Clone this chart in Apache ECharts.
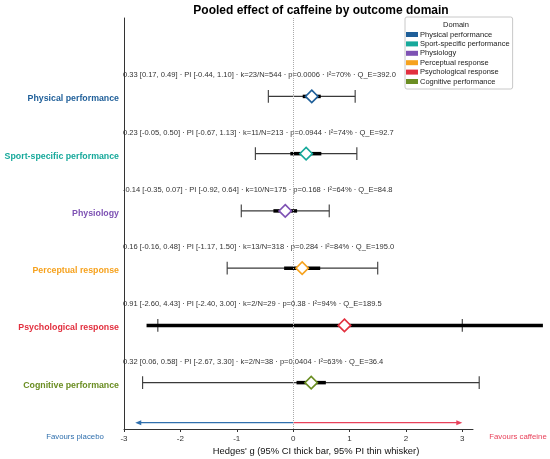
<html>
<head>
    <meta charset="utf-8">
    <title>Pooled effect of caffeine</title>
    <style type="text/css">
        body { margin: 0; background: #fff; }
        #chart { width: 550px; height: 459px; }
    </style>
</head>
<body>
    <div id="chart"></div>

<script src="https://cdn.jsdelivr.net/npm/echarts@6/dist/echarts.min.js"></script>
<script>

    // domains, top to bottom
    var domains = ['Physical performance', 'Sport-specific performance', 'Physiology',
        'Perceptual response', 'Psychological response', 'Cognitive performance'];
    var domainColors = ['#1f5f99', '#17a99b', '#7e52b4', '#f6a21e', '#e2303f', '#6b8e23'];

    var effect = [0.33, 0.23, -0.14, 0.16, 0.91, 0.32];
    var ciLow = [0.17, -0.05, -0.35, -0.16, -2.60, 0.06];
    var ciHigh = [0.49, 0.50, 0.07, 0.48, 4.43, 0.58];
    var piLow = [-0.44, -0.67, -0.92, -1.17, -2.40, -2.67];
    var piHigh = [1.10, 1.13, 0.64, 1.50, 3.00, 3.30];
    var kStudies = [23, 11, 10, 13, 2, 2];
    var nTotal = [544, 213, 175, 318, 29, 38];
    var pValue = ['0.0006', '0.0944', '0.168', '0.284', '0.38', '0.0404'];
    var iSquared = [70, 74, 64, 84, 94, 63];
    var qE = ['392.0', '92.7', '84.8', '195.0', '189.5', '36.4'];

    var xTicks = [-3, -2, -1, 0, 1, 2, 3];
    var rowTicks = [0, 1, 2, 3, 4, 5];

    // direction arrows along the bottom: [start, end]
    var arrowPlacebo = [0, -2.8];
    var arrowCaffeine = [0, 3.0];
    var arrowRow = 5.70;

    var font = 'Liberation Sans, Arial, sans-serif';

    function fmt(v) { return v.toFixed(2); }

    var annotations = [];
    var rows = [];
    for (var i = 0; i < domains.length; i++) {
        annotations.push(fmt(effect[i]) + ' [' + fmt(ciLow[i]) + ', ' + fmt(ciHigh[i]) + '] \u00b7 PI [' +
            fmt(piLow[i]) + ', ' + fmt(piHigh[i]) + '] \u00b7 k=' + kStudies[i] + '/N=' + nTotal[i] +
            ' \u00b7 p=' + pValue[i] + ' \u00b7 I\u00b2=' + iSquared[i] + '% \u00b7 Q_E=' + qE[i]);
        rows.push([i, piLow[i], piHigh[i], ciLow[i], ciHigh[i]]);
    }

    var rich = {};
    for (var i = 0; i < domains.length; i++) {
        rich['r' + i] = { color: domainColors[i], fontWeight: 'bold', fontSize: 8.8, fontFamily: font, padding: [5, 0, 0, 0] };
    }

    var series = [];

    // PI whiskers (thin with caps)
    series.push({
        type: 'custom',
        name: 'pi',
        clip: false,
        silent: true,
        data: rows,
        encode: { x: [1, 2], y: 0 },
        renderItem: function (params, api) {
            var y = api.value(0);
            var a = api.coord([api.value(1), y]);
            var b = api.coord([api.value(2), y]);
            var h = 6.3;
            var st = { stroke: '#3a3a3a', lineWidth: 1.1 };
            return {
                type: 'group',
                children: [
                    { type: 'line', shape: { x1: a[0], y1: a[1], x2: b[0], y2: b[1] }, style: st },
                    { type: 'line', shape: { x1: a[0], y1: a[1] - h, x2: a[0], y2: a[1] + h }, style: st },
                    { type: 'line', shape: { x1: b[0], y1: b[1] - h, x2: b[0], y2: b[1] + h }, style: st }
                ]
            };
        },
        markLine: {
            silent: true,
            symbol: 'none',
            label: { show: false },
            lineStyle: { color: '#aaa', type: 'dotted', width: 1 },
            data: [{ xAxis: 0 }]
        },
        z: 2
    });

    // CI thick bars
    series.push({
        type: 'custom',
        name: 'ci',
        clip: false,
        silent: true,
        data: rows,
        encode: { x: [3, 4], y: 0 },
        renderItem: function (params, api) {
            var y = api.value(0);
            var a = api.coord([api.value(3), y]);
            var b = api.coord([api.value(4), y]);
            return {
                type: 'line',
                shape: { x1: a[0], y1: a[1], x2: b[0], y2: b[1] },
                style: { stroke: '#000', lineWidth: 3.5 }
            };
        },
        z: 3
    });

    // pooled estimates, one series per domain for the legend
    for (var i = 0; i < domains.length; i++) {
        series.push({
            type: 'scatter',
            name: domains[i],
            symbol: 'diamond',
            symbolSize: [12.5, 12.5],
            data: [[effect[i], i]],
            itemStyle: { color: '#fff', borderColor: domainColors[i], borderWidth: 1.6, opacity: 1 },
            z: 5
        });
    }

    // stats text above each row
    series.push({
        type: 'custom',
        name: 'annot',
        clip: false,
        silent: true,
        data: annotations.map(function (t, i) { return [-3, i - 0.37]; }),
        renderItem: function (params, api) {
            var p = api.coord([api.value(0), api.value(1)]);
            return {
                type: 'text',
                x: p[0] - 1,
                y: p[1],
                style: {
                    text: annotations[params.dataIndex],
                    fill: '#333',
                    font: '7.55px ' + font,
                    textAlign: 'left',
                    textVerticalAlign: 'middle'
                }
            };
        },
        z: 4
    });

    // favour arrows
    series.push({
        type: 'custom',
        name: 'arrows',
        clip: false,
        silent: true,
        data: [
            [arrowPlacebo[0], arrowPlacebo[1], arrowRow],
            [arrowCaffeine[0], arrowCaffeine[1], arrowRow]
        ],
        renderItem: function (params, api) {
            var y = api.value(2);
            var a = api.coord([api.value(0), y]);
            var b = api.coord([api.value(1), y]);
            var col = params.dataIndex === 0 ? '#2f6fad' : '#e8415a';
            var dir = b[0] > a[0] ? 1 : -1;
            return {
                type: 'group',
                children: [
                    { type: 'line', shape: { x1: a[0], y1: a[1], x2: b[0] - dir * 3, y2: b[1] },
                        style: { stroke: col, lineWidth: 1.2 } },
                    { type: 'polygon', shape: { points: [[b[0], b[1]], [b[0] - dir * 6, b[1] - 2.5], [b[0] - dir * 6, b[1] + 2.5]] },
                        style: { fill: col } }
                ]
            };
        },
        z: 4
    });

    var option = {
        animation: false,
        backgroundColor: '#fff',
        textStyle: { fontFamily: font },
        grid: { left: 124, right: 77, top: 18, bottom: 30, containLabel: false },
        legend: {
            orient: 'vertical',
            left: 405,
            top: 17,
            padding: [13, 3, 3, 1],
            itemWidth: 12,
            itemHeight: 5,
            itemGap: 0.4,
            borderColor: '#c8c8c8',
            borderWidth: 1,
            borderRadius: 2,
            backgroundColor: '#fff',
            selectedMode: false,
            textStyle: { fontSize: 7.5, lineHeight: 9, color: '#222', fontFamily: font, padding: [0, 0, 0, -3] },
            data: domains.map(function (d, i) {
                return { name: d, icon: 'rect', itemStyle: { color: domainColors[i], borderWidth: 0 } };
            })
        },
        xAxis: {
            type: 'value',
            min: -3,
            max: 3.19,
            interval: 1,
            axisLine: { show: true, onZero: false, lineStyle: { color: '#333', width: 1 } },
            axisTick: { show: true, length: 3, customValues: xTicks, lineStyle: { color: '#333' } },
            axisLabel: { customValues: xTicks, fontSize: 8, color: '#333', margin: 6, fontFamily: font },
            splitLine: { show: false }
        },
        yAxis: {
            type: 'value',
            inverse: true,
            min: -1.37,
            max: 5.81,
            axisLine: { show: true, onZero: false, lineStyle: { color: '#333', width: 1 } },
            axisTick: { show: false },
            splitLine: { show: false },
            axisLabel: {
                customValues: rowTicks,
                margin: 5,
                formatter: function (v) {
                    var i = Math.round(v);
                    return '{r' + i + '|' + domains[i] + '}';
                },
                rich: rich
            }
        },
        graphic: [
            {
                type: 'text', x: 321, y: 11,
                style: { text: 'Pooled effect of caffeine by outcome domain', font: 'bold 12px ' + font,
                    fill: '#000', textAlign: 'center', textVerticalAlign: 'middle' }
            },
            {
                type: 'text', x: 456, y: 25, z: 10,
                style: { text: 'Domain', font: '7.5px ' + font, fill: '#222', textAlign: 'center', textVerticalAlign: 'middle' }
            },
            {
                type: 'text', x: 316, y: 451,
                style: { text: "Hedges' g (95% CI thick bar, 95% PI thin whisker)", font: '9.4px ' + font,
                    fill: '#111', textAlign: 'center', textVerticalAlign: 'middle' }
            },
            {
                type: 'text', x: 75, y: 437,
                style: { text: 'Favours placebo', font: '7.8px ' + font, fill: '#2f6fad', textAlign: 'center', textVerticalAlign: 'middle' }
            },
            {
                type: 'text', x: 518, y: 437,
                style: { text: 'Favours caffeine', font: '7.8px ' + font, fill: '#e8415a', textAlign: 'center', textVerticalAlign: 'middle' }
            }
        ],
        series: series
    };

    var chart = echarts.init(document.getElementById('chart'));
    chart.setOption(option);

</script>
</body>
</html>
